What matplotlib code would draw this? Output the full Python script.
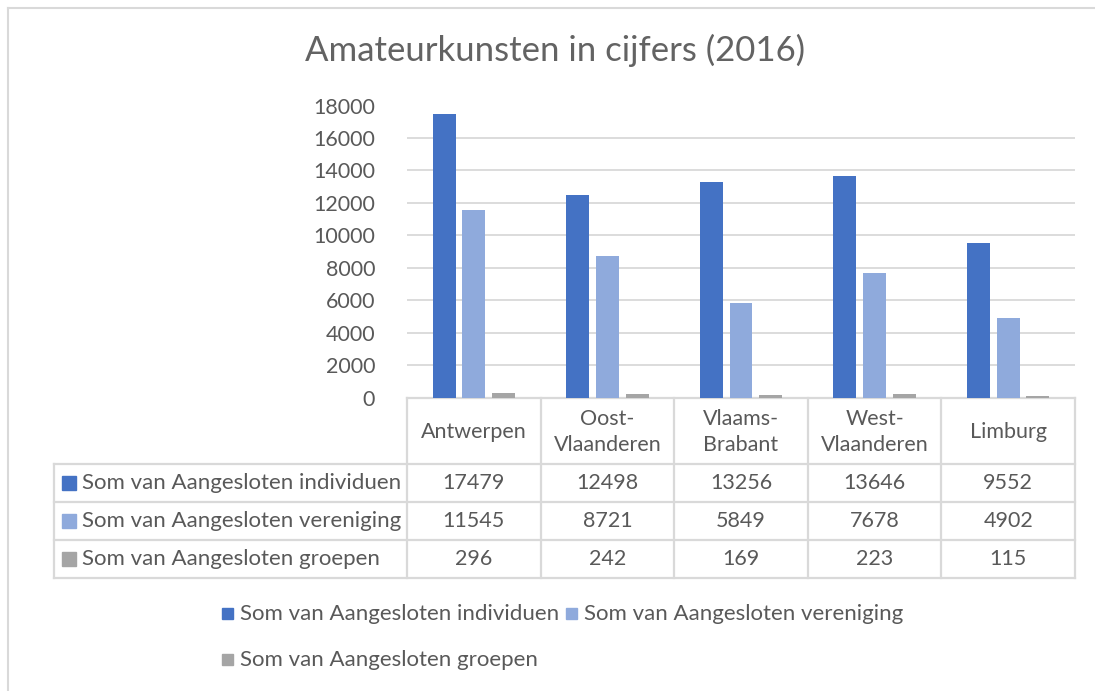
import matplotlib
matplotlib.use("Agg")
import matplotlib.pyplot as plt
from matplotlib.patches import Rectangle
import numpy as np

# ---- data ----
categories = ["Antwerpen", "Oost-\nVlaanderen", "Vlaams-\nBrabant", "West-\nVlaanderen", "Limburg"]
series_names = ["Som van Aangesloten individuen", "Som van Aangesloten vereniging", "Som van Aangesloten groepen"]
individuen = [17479, 12498, 13256, 13646, 9552]
vereniging = [11545, 8721, 5849, 7678, 4902]
groepen = [296, 242, 169, 223, 115]
yticks = [0, 2000, 4000, 6000, 8000, 10000, 12000, 14000, 16000, 18000]
title = "Amateurkunsten in cijfers (2016)"

colors = ["#4472C4", "#8FAADC", "#A5A5A5"]
txt = "#595959"
grid = "#D9D9D9"
FONT = "Lato"
FS = 15.5
FS_NAME = 16

W, H = 1095, 691
fig = plt.figure(figsize=(W / 100, H / 100), dpi=100)

def fx(px):
    return px / W

def fy(py):
    return 1 - py / H

# overlay for pixel-space decorations
ov = fig.add_axes([0, 0, 1, 1], zorder=0)
ov.set_xlim(0, W)
ov.set_ylim(H, 0)
ov.axis("off")

# main axes
L, R, T, B = 407, 1075, 105.5, 397.5
ax = fig.add_axes([fx(L), fy(B), fx(R) - fx(L), (B - T) / H], zorder=1)
ax.patch.set_alpha(0)
n = len(categories)
x = np.arange(n)
bw = 0.172
offs = [-0.222, 0.0, 0.222]
for vals, off, c in zip([individuen, vereniging, groepen], offs, colors):
    ax.bar(x + off, vals, width=bw, color=c, zorder=3)
ax.set_xlim(-0.5, n - 0.5)
ax.set_ylim(0, 18000)
ax.set_yticks(yticks)
ax.set_yticklabels([str(t) for t in yticks], fontsize=FS, color=txt, family=FONT)
ax.tick_params(axis="y", length=0, pad=23)
ax.set_xticks([])
ax.grid(axis="y", color=grid, linewidth=1.3, zorder=0)
for s in ax.spines.values():
    s.set_visible(False)

# title
fig.text(fx(555), fy(50), title, ha="center", va="center", fontsize=25,
         color="#636363", family=FONT)

# border of chart area (top & left visible)
ov.plot([8, W], [8, 8], color=grid, lw=1.5)
ov.plot([8, 8], [8, H], color=grid, lw=1.5)

# ---- data table ----
col_edges = np.linspace(L, R, n + 1)
row_y = [397.5, 464, 502, 540, 578]
lc = grid
lw = 1.6
ov.plot([L, R], [row_y[0], row_y[0]], color=lc, lw=lw)
for yy in row_y[1:]:
    ov.plot([54, R], [yy, yy], color=lc, lw=lw)
for xe in col_edges:
    ov.plot([xe, xe], [row_y[0], row_y[-1]], color=lc, lw=lw)
ov.plot([54, 54], [row_y[1], row_y[-1]], color=lc, lw=lw)

for i, cat in enumerate(categories):
    cx = (col_edges[i] + col_edges[i + 1]) / 2
    ov.text(cx, (row_y[0] + row_y[1]) / 2 + 1, cat, ha="center", va="center",
            fontsize=FS, color=txt, family=FONT, linespacing=1.4)

for r, (name, vals, c) in enumerate(zip(series_names, [individuen, vereniging, groepen], colors)):
    cy = (row_y[r + 1] + row_y[r + 2]) / 2
    ov.add_patch(Rectangle((62, cy - 7), 14, 14, color=c))
    ov.text(82, cy, name, ha="left", va="center", fontsize=FS_NAME, color=txt, family=FONT)
    for i, v in enumerate(vals):
        cx = (col_edges[i] + col_edges[i + 1]) / 2
        ov.text(cx, cy, str(v), ha="center", va="center", fontsize=FS, color=txt, family=FONT)

# ---- legend ----
leg_pos = [(222, 614), (566, 614), (222, 660)]
for (lx, ly), name, c in zip(leg_pos, series_names, colors):
    ov.add_patch(Rectangle((lx, ly - 6), 11, 11, color=c))
    ov.text(lx + 18, ly, name, ha="left", va="center", fontsize=FS_NAME, color=txt, family=FONT)

fig.savefig("out.png", dpi=100)
